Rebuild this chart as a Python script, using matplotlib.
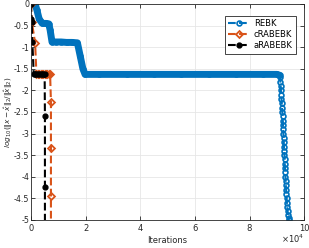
import numpy as np
import matplotlib.pyplot as plt

# Iterations (x) and relative error log10 (y)
rebk_x = [1500, 2200, 3000, 4000, 4500, 5500, 6500, 7000, 7700, 9000, 11000,
          13000, 15000, 17000, 18000, 19000, 19800, 25000, 35000, 45000,
          55000, 65000, 75000, 85000, 90000, 91000, 91200, 91300, 91400,
          91500, 91600, 91700, 91800, 91900, 92000, 92100, 92200, 92250,
          92300, 92400, 92500, 92550, 92600, 92700, 92800, 92850, 92900,
          93000, 93100, 93150, 93200, 93300, 93400, 93500, 93600, 93700,
          93800, 93950, 94100, 94300, 94500]
rebk_y = [0.0, -0.15, -0.35, -0.44, -0.45, -0.45, -0.46, -0.6, -0.88, -0.88,
          -0.88, -0.89, -0.89, -0.9, -1.2, -1.5, -1.63, -1.63, -1.63, -1.63,
          -1.63, -1.63, -1.63, -1.63, -1.63, -1.65, -1.7, -1.8, -1.9, -2.0,
          -2.1, -2.2, -2.3, -2.4, -2.5, -2.6, -2.7, -2.8, -2.9, -3.0, -3.1,
          -3.2, -3.3, -3.4, -3.5, -3.6, -3.7, -3.8, -3.9, -4.0, -4.1, -4.2,
          -4.3, -4.4, -4.5, -4.6, -4.7, -4.8, -4.88, -4.95, -5.0]

crabebk_x = [0, 300, 1500, 2000, 2500, 3000, 3500, 4000, 4500, 5000, 5500,
             6000, 6500, 7000, 7300, 7300, 7300, 7300]
crabebk_y = [0.0, -0.42, -0.9, -1.63, -1.63, -1.63, -1.63, -1.63, -1.63,
             -1.63, -1.63, -1.63, -1.63, -1.63, -2.26, -3.33, -4.44, -5.55]

arabebk_x = [0, 150, 250, 500, 1000, 1500, 2000, 2500, 3000, 3500, 4000,
             4500, 5000, 5100, 5100, 5100]
arabebk_y = [0.0, -0.35, -0.42, -0.88, -1.63, -1.63, -1.63, -1.63, -1.63,
             -1.63, -1.63, -1.63, -1.63, -2.6, -4.23, -5.86]

blue = '#0072BD'
orange = '#D95319'
axc = '#262626'

plt.rcParams['font.family'] = 'DejaVu Sans'
fig = plt.figure(figsize=(3.09, 2.48), dpi=100)
ax = fig.add_axes([0.1003, 0.113, 0.884, 0.871])

# dense markers in the original make the blue curve look like a thick band
ax.plot(rebk_x[:26], rebk_y[:26], color=blue, lw=5, solid_capstyle='round')
ax.plot(rebk_x, rebk_y, '--o', color=blue, lw=1.5, ms=3.5, mew=1.2,
        mfc='none', label='REBK')
ax.plot(crabebk_x, crabebk_y, '--D', color=orange, lw=1.5, ms=3.5, mew=1.3,
        mfc='none', label='cRABEBK')
ax.plot(arabebk_x, arabebk_y, '--o', color='black', lw=1.5, ms=3.5,
        label='aRABEBK')

ax.set_xlim(0, 100000)
ax.set_ylim(-5, 0)
ax.set_xticks(np.arange(0, 100001, 20000))
ax.set_xticklabels(['0', '2', '4', '6', '8', '10'])
ax.set_yticks(np.arange(-5, 0.01, 0.5))
ax.set_yticklabels(['-5', '-4.5', '-4', '-3.5', '-3', '-2.5', '-2', '-1.5',
                    '-1', '-0.5', '0'])
fig.text(0.985, 0.012, r'$\times10^4$', fontsize=6, color=axc,
         ha='right', va='bottom')

ax.grid(True, color='#e6e6e6', lw=0.6)
ax.set_axisbelow(True)
ax.tick_params(direction='in', top=True, right=True, labelsize=6,
               colors=axc, length=3, width=0.6, pad=3)
ax.tick_params(axis='y', pad=1.2, labelsize=5.7)
for s in ax.spines.values():
    s.set_color(axc)
    s.set_linewidth(0.6)

ax.set_xlabel('Iterations', fontsize=6, color=axc, labelpad=2)
ax.set_ylabel(r'$log_{10}(\|x-\hat{x}\|_2/\|\hat{x}\|_2)$', fontsize=5.3,
              color=axc)
ax.yaxis.set_label_coords(-0.058, 0.5)

leg = ax.legend(loc='upper right', fontsize=6, handlelength=2.6,
                borderpad=0.4, labelspacing=0.25, handletextpad=0.5,
                fancybox=False, framealpha=1, bbox_to_anchor=(0.985, 0.965))
leg.get_frame().set_edgecolor(axc)
leg.get_frame().set_linewidth(0.6)

fig.savefig('out.png', dpi=100)
